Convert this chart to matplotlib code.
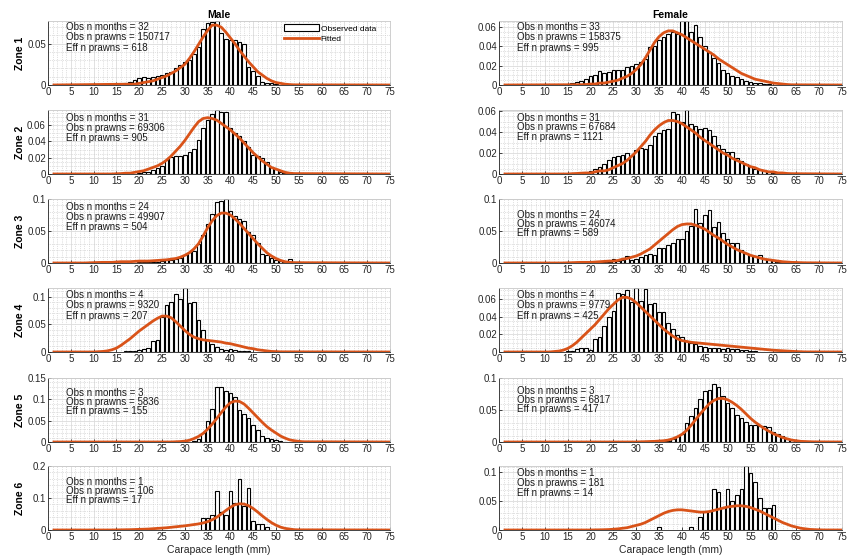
import numpy as np
import matplotlib
matplotlib.use('Agg')
import matplotlib.pyplot as plt
from matplotlib.patches import Patch
from matplotlib.lines import Line2D
from matplotlib.ticker import MultipleLocator, AutoMinorLocator, FuncFormatter

plt.rcParams['font.family'] = ['Liberation Sans', 'DejaVu Sans']

# observed proportions per 1 mm length class (first class = *_x0), fitted curve per 1 mm (first point = *_fx0)

# zone 1
m1_x0 = 16
m1_obs = [0.001, 0.002, 0.004, 0.006, 0.008, 0.010, 0.009, 0.010, 0.011, 0.012, 0.014, 0.016, 0.020, 0.024,
          0.028, 0.030, 0.038, 0.046, 0.068, 0.075, 0.076, 0.0775, 0.063, 0.056, 0.054, 0.055, 0.052, 0.050,
          0.022, 0.017, 0.011, 0.004, 0.003, 0.002, 0.001]
m1_fx0 = 18
m1_fit = [0.001, 0.001, 0.002, 0.003, 0.004, 0.005, 0.007, 0.009, 0.011, 0.014, 0.017, 0.021, 0.025, 0.032,
          0.040, 0.049, 0.058, 0.066, 0.0725, 0.0725, 0.070, 0.064, 0.057, 0.050, 0.042, 0.035, 0.028, 0.022,
          0.016, 0.012, 0.008, 0.005, 0.003, 0.002, 0.001, 0.0005, 0.0002]
f1_x0 = 16
f1_obs = [0.002, 0.003, 0.004, 0.006, 0.009, 0.010, 0.014, 0.012, 0.013, 0.015, 0.016, 0.016, 0.019, 0.020,
          0.022, 0.024, 0.027, 0.039, 0.040, 0.047, 0.050, 0.053, 0.055, 0.053, 0.066, 0.066, 0.055, 0.062,
          0.050, 0.040, 0.034, 0.028, 0.023, 0.015, 0.012, 0.009, 0.008, 0.006, 0.0045, 0.003, 0.002, 0.002,
          0.001, 0.001, 0.0005]
f1_fx0 = 18
f1_fit = [0.0003, 0.0005, 0.001, 0.001, 0.002, 0.002, 0.003, 0.004, 0.005, 0.007, 0.009, 0.012, 0.016, 0.021,
          0.028, 0.036, 0.044, 0.050, 0.054, 0.056, 0.056, 0.054, 0.052, 0.049, 0.046, 0.043, 0.040, 0.037,
          0.034, 0.031, 0.027, 0.024, 0.021, 0.018, 0.015, 0.012, 0.010, 0.008, 0.006, 0.005, 0.004, 0.003,
          0.002, 0.0015, 0.001, 0.0005, 0.0002]

# zone 2
m2_x0 = 20
m2_obs = [0.001, 0.002, 0.003, 0.005, 0.007, 0.010, 0.017, 0.021, 0.022, 0.022, 0.023, 0.027, 0.031, 0.042,
          0.056, 0.066, 0.074, 0.078, 0.076, 0.076, 0.056, 0.050, 0.046, 0.040, 0.033, 0.023, 0.022, 0.020,
          0.015, 0.009, 0.006, 0.002, 0.001]
m2_fx0 = 14
m2_fit = [0.0, 0.0003, 0.0005, 0.001, 0.001, 0.002, 0.003, 0.004, 0.006, 0.008, 0.010, 0.013, 0.017, 0.022,
          0.028, 0.034, 0.041, 0.049, 0.057, 0.064, 0.068, 0.069, 0.068, 0.066, 0.062, 0.058, 0.054, 0.049,
          0.044, 0.038, 0.032, 0.026, 0.021, 0.016, 0.012, 0.008, 0.006, 0.004, 0.002, 0.001, 0.0005]
f2_x0 = 20
f2_obs = [0.003, 0.005, 0.007, 0.010, 0.013, 0.016, 0.017, 0.018, 0.020, 0.017, 0.023, 0.025, 0.024, 0.028,
          0.036, 0.039, 0.042, 0.043, 0.059, 0.057, 0.050, 0.061, 0.048, 0.046, 0.043, 0.044, 0.042, 0.036,
          0.028, 0.024, 0.021, 0.021, 0.015, 0.012, 0.010, 0.007, 0.005, 0.004, 0.003, 0.002, 0.001, 0.0005]
f2_fx0 = 15
f2_fit = [0.0, 0.0003, 0.0005, 0.0008, 0.001, 0.001, 0.002, 0.003, 0.003, 0.004, 0.006, 0.008, 0.010, 0.013,
          0.017, 0.021, 0.026, 0.031, 0.037, 0.042, 0.046, 0.049, 0.051, 0.051, 0.050, 0.048, 0.045, 0.042,
          0.039, 0.035, 0.032, 0.029, 0.026, 0.023, 0.020, 0.018, 0.015, 0.013, 0.011, 0.009, 0.007, 0.006,
          0.004, 0.003, 0.002, 0.002, 0.001, 0.001, 0.0005, 0.0003]

# zone 3
m3_x0 = 20
m3_obs = [0.001, 0.001, 0.001, 0.002, 0.002, 0.003, 0.004, 0.005, 0.006, 0.008, 0.013, 0.017, 0.019, 0.029,
          0.044, 0.061, 0.077, 0.095, 0.097, 0.100, 0.081, 0.073, 0.068, 0.065, 0.049, 0.044, 0.031, 0.014,
          0.012, 0.008, 0.005, 0.003, 0.002, 0.006, 0.002, 0.001]
m3_fx0 = 8
m3_fit = [0.0, 0.0003, 0.0005, 0.0008, 0.001, 0.001, 0.001, 0.0015, 0.002, 0.002, 0.002, 0.0025, 0.003, 0.003,
          0.003, 0.0035, 0.004, 0.0045, 0.005, 0.006, 0.007, 0.009, 0.012, 0.016, 0.022, 0.030, 0.042, 0.055,
          0.066, 0.074, 0.078, 0.078, 0.075, 0.069, 0.062, 0.054, 0.046, 0.038, 0.030, 0.023, 0.016, 0.011,
          0.007, 0.004, 0.002, 0.001, 0.0005]
f3_x0 = 22
f3_obs = [0.001, 0.002, 0.002, 0.007, 0.003, 0.004, 0.011, 0.005, 0.007, 0.009, 0.012, 0.014, 0.012, 0.023,
          0.023, 0.028, 0.032, 0.038, 0.037, 0.050, 0.058, 0.084, 0.063, 0.075, 0.083, 0.057, 0.064, 0.047,
          0.037, 0.032, 0.032, 0.021, 0.016, 0.012, 0.011, 0.012, 0.007, 0.007, 0.004, 0.002, 0.001]
f3_fx0 = 14
f3_fit = [0.0, 0.0003, 0.0005, 0.0008, 0.001, 0.001, 0.001, 0.0015, 0.002, 0.0025, 0.003, 0.003, 0.004, 0.006,
          0.007, 0.009, 0.011, 0.014, 0.018, 0.022, 0.028, 0.034, 0.040, 0.046, 0.052, 0.057, 0.060, 0.061,
          0.061, 0.059, 0.056, 0.053, 0.048, 0.043, 0.039, 0.034, 0.029, 0.025, 0.021, 0.018, 0.015, 0.012,
          0.010, 0.008, 0.006, 0.005, 0.004, 0.003, 0.002, 0.0015, 0.001, 0.0008, 0.0005, 0.0003]

# zone 4
m4_x0 = 17
m4_obs = [0.001, 0.001, 0.002, 0.003, 0.005, 0.007, 0.020, 0.021, 0.064, 0.085, 0.091, 0.105, 0.095, 0.115,
          0.088, 0.091, 0.058, 0.039, 0.022, 0.014, 0.009, 0.006, 0.004, 0.005, 0.004, 0.002, 0.001, 0.001]
m4_fx0 = 10
m4_fit = [0.0, 0.0005, 0.001, 0.002, 0.004, 0.007, 0.012, 0.018, 0.024, 0.031, 0.038, 0.044, 0.050, 0.056,
          0.061, 0.065, 0.065, 0.062, 0.055, 0.047, 0.039, 0.032, 0.027, 0.024, 0.022, 0.021, 0.020, 0.019,
          0.018, 0.016, 0.015, 0.013, 0.011, 0.009, 0.007, 0.006, 0.004, 0.003, 0.002, 0.001, 0.0007, 0.0003]
f4_x0 = 15
f4_obs = [0.001, 0.001, 0.003, 0.004, 0.005, 0.002, 0.015, 0.017, 0.029, 0.040, 0.046, 0.067, 0.066, 0.070,
          0.057, 0.0725, 0.058, 0.072, 0.055, 0.056, 0.045, 0.045, 0.033, 0.026, 0.019, 0.017, 0.013, 0.010,
          0.009, 0.007, 0.006, 0.005, 0.005, 0.004, 0.003, 0.004, 0.003, 0.003, 0.002, 0.002, 0.001, 0.001]
f4_fx0 = 11
f4_fit = [0.0, 0.0005, 0.001, 0.002, 0.004, 0.007, 0.011, 0.016, 0.021, 0.026, 0.031, 0.037, 0.043, 0.049,
          0.054, 0.059, 0.062, 0.062, 0.060, 0.056, 0.051, 0.046, 0.041, 0.036, 0.031, 0.026, 0.022, 0.018,
          0.015, 0.013, 0.012, 0.011, 0.0105, 0.010, 0.0095, 0.009, 0.0085, 0.008, 0.0075, 0.007, 0.0065,
          0.006, 0.0055, 0.005, 0.0045, 0.004, 0.0035, 0.003, 0.0025, 0.002, 0.0017, 0.0014, 0.0011, 0.0008,
          0.0005, 0.0003, 0.0001]

# zone 5
m5_x0 = 32
m5_obs = [0.002, 0.008, 0.022, 0.050, 0.078, 0.128, 0.128, 0.120, 0.114, 0.106, 0.074, 0.066, 0.056, 0.040,
          0.028, 0.014, 0.010, 0.007, 0.005, 0.002, 0.001]
m5_fx0 = 27
m5_fit = [0.0, 0.0005, 0.001, 0.002, 0.004, 0.008, 0.013, 0.020, 0.030, 0.042, 0.055, 0.069, 0.082, 0.092,
          0.096, 0.095, 0.089, 0.079, 0.068, 0.057, 0.046, 0.036, 0.028, 0.021, 0.014, 0.009, 0.005, 0.003,
          0.0015, 0.0005]
f5_x0 = 35
f5_obs = [0.001, 0.002, 0.002, 0.004, 0.009, 0.012, 0.029, 0.041, 0.053, 0.067, 0.080, 0.082, 0.091, 0.086,
          0.072, 0.061, 0.053, 0.042, 0.037, 0.032, 0.027, 0.026, 0.025, 0.025, 0.023, 0.016, 0.012, 0.009,
          0.005, 0.003, 0.002, 0.001]
f5_fx0 = 30
f5_fit = [0.0, 0.0003, 0.0005, 0.0008, 0.001, 0.0015, 0.002, 0.003, 0.005, 0.008, 0.012, 0.018, 0.026, 0.035,
          0.044, 0.052, 0.060, 0.065, 0.068, 0.068, 0.066, 0.062, 0.057, 0.051, 0.044, 0.037, 0.031, 0.026,
          0.021, 0.017, 0.013, 0.010, 0.007, 0.005, 0.003, 0.002, 0.001, 0.0007, 0.0004, 0.0002]

# zone 6 (single month, shown as counts over the observed total)
m6_x0 = 34
m6_counts = [4, 4, 5, 13, 6, 5, 13, 9, 17, 8, 14, 3, 2, 2, 1]
m6_n = 106
m6_fx0 = 14
m6_fit = [0.0, 0.0003, 0.0005, 0.0008, 0.001, 0.0015, 0.002, 0.0025, 0.003, 0.004, 0.005, 0.006, 0.007, 0.0085,
          0.010, 0.0115, 0.013, 0.015, 0.017, 0.019, 0.022, 0.026, 0.032, 0.040, 0.050, 0.061, 0.071, 0.079,
          0.082, 0.081, 0.076, 0.067, 0.056, 0.044, 0.033, 0.023, 0.015, 0.009, 0.005, 0.003, 0.001, 0.0005]
f6_x0 = 35
f6_counts = [1, 0, 0, 0, 0, 0, 0, 1, 0, 4, 6, 6, 13, 12, 7, 13, 9, 11, 13, 20, 18, 15, 10, 7, 7, 8]
f6_n = 181
f6_fx0 = 20
f6_fit = [0.0, 0.0002, 0.0003, 0.0005, 0.0008, 0.0013, 0.002, 0.003, 0.004, 0.006, 0.008, 0.010, 0.013, 0.017,
          0.021, 0.025, 0.029, 0.032, 0.034, 0.035, 0.035, 0.034, 0.033, 0.032, 0.031, 0.031, 0.032, 0.034,
          0.036, 0.038, 0.040, 0.041, 0.042, 0.042, 0.041, 0.039, 0.036, 0.033, 0.029, 0.025, 0.021, 0.017,
          0.013, 0.010, 0.007, 0.005, 0.003, 0.002, 0.001, 0.0006, 0.0003, 0.0001]

# sample summaries: months, prawns observed, effective n
m_months = [32, 31, 24, 4, 3, 1]
m_prawns = [150717, 69306, 49907, 9320, 5836, 106]
m_eff = [618, 905, 504, 207, 155, 17]
f_months = [33, 31, 24, 4, 3, 1]
f_prawns = [158375, 67684, 46074, 9779, 6817, 181]
f_eff = [995, 1121, 589, 425, 417, 14]

zones = ['Zone 1', 'Zone 2', 'Zone 3', 'Zone 4', 'Zone 5', 'Zone 6']

male = [(m1_x0, m1_obs, m1_fx0, m1_fit), (m2_x0, m2_obs, m2_fx0, m2_fit), (m3_x0, m3_obs, m3_fx0, m3_fit),
        (m4_x0, m4_obs, m4_fx0, m4_fit), (m5_x0, m5_obs, m5_fx0, m5_fit),
        (m6_x0, list(np.array(m6_counts) / m6_n), m6_fx0, m6_fit)]
female = [(f1_x0, f1_obs, f1_fx0, f1_fit), (f2_x0, f2_obs, f2_fx0, f2_fit), (f3_x0, f3_obs, f3_fx0, f3_fit),
          (f4_x0, f4_obs, f4_fx0, f4_fit), (f5_x0, f5_obs, f5_fx0, f5_fit),
          (f6_x0, list(np.array(f6_counts) / f6_n), f6_fx0, f6_fit)]

# axis limits / ticks per panel
m_ytop = [0.0775, 0.0784, 0.1, 0.1158, 0.15, 0.2]
f_ytop = [0.0662, 0.061, 0.1, 0.0726, 0.1, 0.111]
m_yticks = [[0, 0.05], [0, 0.02, 0.04, 0.06], [0, 0.05, 0.1], [0, 0.05, 0.1], [0, 0.05, 0.1, 0.15], [0, 0.1, 0.2]]
f_yticks = [[0, 0.02, 0.04, 0.06], [0, 0.02, 0.04, 0.06], [0, 0.05, 0.1], [0, 0.02, 0.04, 0.06],
            [0, 0.05, 0.1], [0, 0.05, 0.1]]
# text block: offset of first line below top and line step (pixels)
m_txt = [(6, 10.5), (7.7, 10), (7.7, 10), (7, 10.5), (15, 9.2), (16, 9.2)]
f_txt = [(6, 10.5), (7.7, 9.8), (16, 9.2), (7, 10.5), (12.5, 9.2), (7.3, 9.7)]

ORANGE = '#D95319'
W, H = 850, 558
col_left = [48, 499]
col_w = [342, 343]
row_top = [21, 110, 199, 288, 378, 466]
ax_h = 64

fig = plt.figure(figsize=(W / 100, H / 100), dpi=100)
fmt = FuncFormatter(lambda v, p: '%g' % round(v, 4))

for c, (panels, ytop, yticks, txt, months, prawns, eff) in enumerate(
        [(male, m_ytop, m_yticks, m_txt, m_months, m_prawns, m_eff),
         (female, f_ytop, f_yticks, f_txt, f_months, f_prawns, f_eff)]):
    for r in range(6):
        ax = fig.add_axes([col_left[c] / W, 1 - (row_top[r] + ax_h) / H, col_w[c] / W, ax_h / H])
        x0, obs, fx0, fit = panels[r]
        obs = np.array(obs)
        bx = np.arange(x0, x0 + len(obs))
        keep = obs > 0
        ax.bar(bx[keep], obs[keep], width=0.8, color='white', edgecolor='black', linewidth=0.8, zorder=2)
        fx = np.concatenate([[1], np.arange(fx0, fx0 + len(fit)), [75]])
        fy = np.concatenate([[0], fit, [0]])
        ax.plot(fx, fy, color=ORANGE, lw=2, zorder=3, solid_capstyle='butt')

        ax.set_xlim(0, 75)
        ax.set_ylim(0, ytop[r])
        ax.set_xticks(np.arange(0, 76, 5))
        ax.xaxis.set_minor_locator(MultipleLocator(1))
        ax.set_yticks(yticks[r])
        ax.yaxis.set_minor_locator(AutoMinorLocator())
        ax.yaxis.set_major_formatter(fmt)
        ax.set_axisbelow(True)
        ax.grid(which='major', color='#dcdcdc', lw=0.6, ls='-')
        ax.grid(which='minor', color='#c4c4c4', lw=0.5, ls=':')
        ax.tick_params(which='major', direction='in', length=2.5, width=0.6, labelsize=7,
                       colors='#262626', pad=1.5)
        ax.tick_params(which='minor', length=0)
        for s in ['left', 'bottom']:
            ax.spines[s].set_color('#262626')
            ax.spines[s].set_linewidth(0.6)
        for s in ['top', 'right']:
            ax.spines[s].set_color('#c8c8c8')
            ax.spines[s].set_linewidth(0.6)

        lines = ['Obs n months = %d' % months[r], 'Obs n prawns = %d' % prawns[r], 'Eff n prawns = %d' % eff[r]]
        off, step = txt[r]
        for i, s in enumerate(lines):
            ax.text(4, 1 - (off + i * step) / ax_h, s, transform=ax.get_xaxis_transform(),
                    fontsize=7, va='center', ha='left', color='#1a1a1a', zorder=4)

        if c == 0:
            fig.text(20 / W, 1 - (row_top[r] + ax_h / 2) / H, zones[r], rotation=90, fontsize=7.5,
                     fontweight='bold', ha='center', va='center')
        if r == 0:
            ax.set_title(['Male', 'Female'][c], fontsize=7.5, fontweight='bold', pad=2)
        if r == 5:
            ax.set_xlabel('Carapace length (mm)', fontsize=7.5, labelpad=2, color='#262626')
        if r == 0 and c == 0:
            handles = [Patch(facecolor='white', edgecolor='black', linewidth=0.8),
                       Line2D([0], [0], color=ORANGE, lw=2)]
            ax.legend(handles, ['Observed data', 'Fitted'], loc='upper left',
                      bbox_to_anchor=((284 - 48) / 342, 1 - 3 / ax_h), frameon=False, fontsize=6,
                      handlelength=4.2, handleheight=1.0, handletextpad=0.2, labelspacing=0.25,
                      borderaxespad=0, borderpad=0)

fig.savefig('out.png', dpi=100)
